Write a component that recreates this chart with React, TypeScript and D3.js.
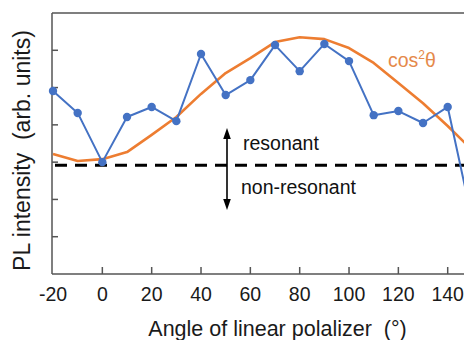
import React, { useEffect, useRef } from 'react';
import * as d3 from 'd3';

const angles = [-20, -10, 0, 10, 20, 30, 40, 50, 60, 70, 80, 90, 100, 110, 120, 130, 140, 150];
const plValues = [4.91, 4.32, 3.0, 4.21, 4.48, 4.1, 5.9, 4.8, 5.2, 6.14, 5.44, 6.17, 5.71, 4.26, 4.37, 4.05, 4.48, 1.42];
const cosValues = [3.22, 3.03, 3.08, 3.27, 3.73, 4.21, 4.83, 5.39, 5.79, 6.22, 6.35, 6.3, 6.06, 5.66, 5.12, 4.58, 3.97, 3.32];
const xTicks = [-20, 0, 20, 40, 60, 80, 100, 120, 140];
const yTicks = [1, 2, 3, 4, 5, 6];
const baseline = 2.92;

const App = () => {
  const ref = useRef<SVGSVGElement>(null);

  useEffect(() => {
    const width = 464;
    const font = '"Liberation Sans", Arial, sans-serif';
    const axisColor = '#555';

    const svg = d3.select(ref.current);
    svg.selectAll('*').remove();

    const x = d3.scaleLinear().domain([-20, 140]).range([53, 447.7]);
    const y = d3.scaleLinear().domain([0, 7]).range([274, 13]);
    const left = 52;
    const right = width + 10;

    svg.append('defs').append('clipPath').attr('id', 'plotClip')
      .append('rect').attr('x', left).attr('y', y(7)).attr('width', right - left).attr('height', y(0) - y(7));

    // frame
    svg.append('line').attr('x1', left).attr('x2', right).attr('y1', y(7)).attr('y2', y(7))
      .attr('stroke', axisColor).attr('stroke-width', 1.5);
    svg.append('line').attr('x1', left).attr('x2', left).attr('y1', y(7)).attr('y2', y(0))
      .attr('stroke', axisColor).attr('stroke-width', 1.5);
    svg.append('line').attr('x1', left).attr('x2', right).attr('y1', y(0)).attr('y2', y(0))
      .attr('stroke', axisColor).attr('stroke-width', 1.5);

    // inward ticks
    svg.selectAll('.ytick').data(yTicks).enter().append('line')
      .attr('x1', left).attr('x2', left + 6)
      .attr('y1', d => y(d)).attr('y2', d => y(d))
      .attr('stroke', axisColor).attr('stroke-width', 1.5);
    svg.selectAll('.xtick').data(xTicks.filter(d => d > -20)).enter().append('line')
      .attr('x1', d => x(d)).attr('x2', d => x(d))
      .attr('y1', y(0)).attr('y2', y(0) - 7)
      .attr('stroke', axisColor).attr('stroke-width', 1.5);
    svg.selectAll('.xlabel').data(xTicks).enter().append('text')
      .attr('x', d => x(d)).attr('y', 301)
      .attr('text-anchor', 'middle')
      .attr('font-family', font).attr('font-size', 19.5).attr('fill', '#1a1a1a')
      .text(d => `${d}`);

    // axis titles
    svg.append('text')
      .attr('transform', 'translate(30,150.5) rotate(-90)')
      .attr('text-anchor', 'middle')
      .attr('font-family', font).attr('font-size', 23).attr('fill', '#1a1a1a')
      .style('white-space', 'pre')
      .text('PL intensity  (arb. units)');
    svg.append('text')
      .attr('x', 277.5).attr('y', 336)
      .attr('text-anchor', 'middle')
      .attr('font-family', font).attr('font-size', 21.5).attr('fill', '#1a1a1a')
      .style('white-space', 'pre')
      .text('Angle of linear polalizer  (°)');

    const plot = svg.append('g').attr('clip-path', 'url(#plotClip)');

    // dashed resonance boundary
    plot.append('line')
      .attr('x1', 55).attr('x2', right).attr('y1', y(baseline)).attr('y2', y(baseline))
      .attr('stroke', '#000').attr('stroke-width', 3).attr('stroke-dasharray', '12,8');

    const line = d3.line<number>().x((d, i) => x(angles[i])).y(d => y(d));

    plot.append('path').datum(cosValues)
      .attr('d', line).attr('fill', 'none')
      .attr('stroke', '#ED7D31').attr('stroke-width', 2.6).attr('stroke-linejoin', 'round');

    plot.append('path').datum(plValues)
      .attr('d', line).attr('fill', 'none')
      .attr('stroke', '#4472C4').attr('stroke-width', 2).attr('stroke-linejoin', 'round');
    svg.selectAll('.pt').data(plValues).enter().append('circle')
      .attr('cx', (d, i) => x(angles[i])).attr('cy', d => y(d))
      .attr('r', 4.2).attr('fill', '#4472C4');

    // double arrow
    const ax = 227;
    const top = 128;
    const bottom = 210;
    svg.append('line').attr('x1', ax).attr('x2', ax).attr('y1', top + 8).attr('y2', bottom - 8)
      .attr('stroke', '#000').attr('stroke-width', 1.6);
    svg.append('path').attr('d', `M${ax},${top} L${ax - 3.8},${top + 11} L${ax + 3.8},${top + 11} Z`).attr('fill', '#000');
    svg.append('path').attr('d', `M${ax},${bottom} L${ax - 3.8},${bottom - 11} L${ax + 3.8},${bottom - 11} Z`).attr('fill', '#000');

    svg.append('text').attr('x', 243).attr('y', 150)
      .attr('font-family', font).attr('font-size', 19.5).attr('fill', '#111')
      .text('resonant');
    svg.append('text').attr('x', 241).attr('y', 194)
      .attr('font-family', font).attr('font-size', 19.5).attr('fill', '#111')
      .text('non-resonant');

    // cos^2 theta label
    const cosText = svg.append('text').attr('x', 388).attr('y', 67)
      .attr('font-family', font).attr('font-size', 19.5).attr('fill', '#E5894A');
    cosText.append('tspan').text('cos');
    cosText.append('tspan').attr('font-size', 12).attr('dy', -8).text('2');
    cosText.append('tspan').attr('dy', 8).text('θ');
  }, []);

  return (
    <svg ref={ref} width={464} height={340}
      style={{ position: 'absolute', left: 0, top: 0, background: '#fff' }} />
  );
};

export default App;
